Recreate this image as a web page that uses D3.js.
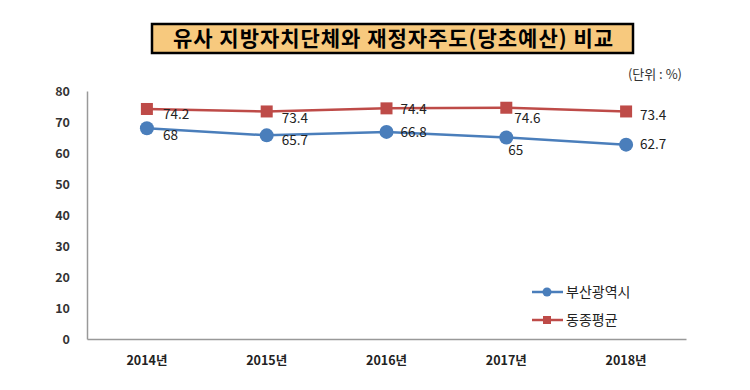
<!DOCTYPE html>
<html><head><meta charset="utf-8">
<script src="https://cdn.jsdelivr.net/npm/d3@7"></script>
<style>body{margin:0;background:#fff}svg{display:block}text{font-family:"Noto Sans CJK KR","Noto Sans",sans-serif}</style>
</head><body><svg id="c" width="750" height="390"></svg>
<script>
const categories = ["2014년","2015년","2016년","2017년","2018년"];
const busan = [68, 65.7, 66.8, 65, 62.7];
const avg = [74.2, 73.4, 74.4, 74.6, 73.4];
const yTicks = [0,10,20,30,40,50,60,70,80];
const seriesNames = ["부산광역시","동종평균"];
const title = "유사 지방자치단체와 재정자주도(당초예산) 비교";
const unit = "(단위 : %)";

const svg = d3.select("#c");
const x = d3.scaleBand().domain(categories).range([87,686]);
const y = d3.scaleLinear().domain([0,80]).range([339,91]);
const cx = c => x(c) + x.bandwidth()/2;

// title box
svg.append("rect").attr("x",152).attr("y",24).attr("width",481).attr("height",29)
  .attr("fill","#F7C97E").attr("stroke","#000").attr("stroke-width",2.5);
svg.append("text").attr("x",173).attr("y",46)
  .attr("font-size",21).attr("font-weight","bold").attr("fill","#000")
  .attr("textLength",440).attr("lengthAdjust","spacing").text(title);
svg.append("text").attr("x",682).attr("y",79).attr("text-anchor","end")
  .attr("font-size",13).attr("fill","#333").text(unit);

// axes
const ya = svg.append("g").attr("transform","translate(87,0)")
  .call(d3.axisLeft(y).tickValues(yTicks).tickSize(0).tickPadding(17));
ya.select(".domain").attr("stroke","#999").attr("stroke-width",1.5);
ya.selectAll("text").attr("font-size",12.5).attr("font-weight","bold").attr("fill","#333")
  .attr("font-family","'Noto Sans','DejaVu Sans',sans-serif");
const xa = svg.append("g").attr("transform","translate(0,339)")
  .call(d3.axisBottom(x).tickSize(0).tickPadding(17));
xa.select(".domain").attr("stroke","#999").attr("stroke-width",1.5);
xa.selectAll("text").attr("font-size",12.5).attr("font-weight","bold").attr("fill","#222");

const line = d3.line().x((d,i)=>cx(categories[i])).y(d=>y(d));
const blue = "#4A7EBB", red = "#BE4B48";

svg.append("path").datum(avg).attr("d",line).attr("fill","none").attr("stroke",red).attr("stroke-width",2.5);
svg.append("path").datum(busan).attr("d",line).attr("fill","none").attr("stroke",blue).attr("stroke-width",2.5);

svg.selectAll(".sq").data(avg).enter().append("rect")
  .attr("x",(d,i)=>cx(categories[i])-6).attr("y",d=>y(d)-6).attr("width",12).attr("height",12).attr("fill",red);
svg.selectAll(".ci").data(busan).enter().append("circle")
  .attr("cx",(d,i)=>cx(categories[i])).attr("cy",d=>y(d)).attr("r",7).attr("fill",blue);

// label placement offsets (layout, not data)
const offR = [[16,5],[15,7],[14,1],[8,10],[14,4]];
const offB = [[16,7],[15,5],[14,0],[2,12],[14,-1]];
function labels(data, off){
  svg.selectAll(null).data(data).enter().append("text")
    .attr("x",(d,i)=>cx(categories[i])+off[i][0]).attr("y",(d,i)=>y(d)+off[i][1]+5)
    .attr("font-size",13.5).attr("fill","#222")
    .attr("font-family","'Noto Sans','DejaVu Sans',sans-serif").text(d=>d);
}
labels(avg, offR); labels(busan, offB);

// legend
const lg = [[blue,"circle"],[red,"rect"]];
lg.forEach((l,i)=>{
  const ly = 292 + i*28;
  svg.append("line").attr("x1",532).attr("x2",563).attr("y1",ly).attr("y2",ly).attr("stroke",l[0]).attr("stroke-width",2.5);
  if(l[1]==="circle") svg.append("circle").attr("cx",547).attr("cy",ly).attr("r",4.5).attr("fill",l[0]);
  else svg.append("rect").attr("x",543).attr("y",ly-4).attr("width",8).attr("height",8).attr("fill",l[0]);
  svg.append("text").attr("x",566).attr("y",ly+5).attr("font-size",14).attr("fill","#222").text(seriesNames[i]);
});
</script></body></html>
